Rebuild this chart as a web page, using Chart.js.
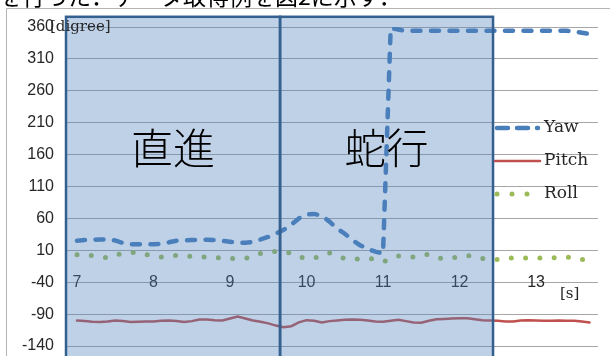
<!DOCTYPE html>
<html>
<head>
<meta charset="utf-8">
<script src="https://cdn.jsdelivr.net/npm/chart.js@4.4.1/dist/chart.umd.min.js"></script>
<style>
  html, body { margin: 0; padding: 0; background: #ffffff; }
  canvas { display: block; }
</style>
</head>
<body>
<canvas id="attitude" width="610" height="356"></canvas>
<script>
// Sample times [s]
const timeSec = [
  7.0, 7.1, 7.2, 7.3, 7.4, 7.5, 7.6, 7.7, 7.8, 7.9,
  8.0, 8.1, 8.2, 8.3, 8.4, 8.5, 8.6, 8.7, 8.8, 8.9,
  9.0, 9.1, 9.2, 9.3, 9.4, 9.5, 9.6, 9.7, 9.8, 9.9,
  10.0, 10.1, 10.2, 10.3, 10.4, 10.5, 10.6, 10.7, 10.8, 10.9,
  11.0, 11.1, 11.2, 11.3, 11.4, 11.5, 11.6, 11.7, 11.8, 11.9,
  12.0, 12.1, 12.2, 12.3, 12.4, 12.5, 12.6, 12.7, 12.8, 12.9,
  13.0, 13.1, 13.2, 13.3, 13.4, 13.5, 13.6, 13.7
];

// Yaw angle [degree]
const yawDeg = [
  25, 26, 26.5, 27, 27, 25.5, 21.5, 19.5, 19.5, 19.5,
  19.5, 20, 22.5, 25, 25.5, 26, 26.5, 26.5, 26, 25,
  23.5, 22, 22, 23, 27, 31, 36, 42, 50, 60,
  66, 67, 64, 55, 44, 36, 26, 18, 12, 8,
  5, 358, 356, 354, 354, 354, 354, 354, 354, 354,
  354, 354, 354, 354, 354, 354, 354, 354, 354, 354,
  354, 354, 354, 354, 354, 353, 351, 349
];

// Pitch angle [degree]
const pitchDeg = [
  -100, -101, -102, -102.5, -101.5, -100, -101, -102.5, -102, -101.5,
  -101.5, -100.5, -100, -101, -102.5, -101, -98.5, -98.5, -99.5, -100,
  -97, -94, -97, -100, -102, -104.5, -108, -110.5, -109, -103,
  -99.5, -100.5, -103, -101, -100, -99, -98.5, -99, -100, -101.5,
  -102, -100.5, -99, -101, -103, -103.5, -100.5, -98, -97.5, -97,
  -96.5, -96.5, -98, -99.5, -100, -100.5, -101.5, -101.5, -100, -99.5,
  -100, -100.5, -100.5, -100, -100.5, -100.5, -101.5, -103
];

// Roll angle [degree]
const rollDeg = [
  3, 2.5, 1.6, 0, -2, 2, 6, 6.5, 6.5, 3.5,
  1.5, -0.5, 0, 2, 1.5, 0.6, 0, -1, -1.5, -2,
  -2.5, -3, -2.5, 0, 5, 7, 8.4, 7.5, 5.8, 0,
  -3, -2.5, 1.5, 5.8, 1, -3, -4, -3.5, -2.5, -4,
  -8, -4, 1, 0.5, -0.5, 2.5, 3.5, -1.5, -3, -2,
  0, 2, 0, -3, -4, -4.6, -3, -2, -2, -2,
  -2, -2, -2, -1.5, -0.5, -2, -4.5, -4
];

// Axis tick labels
const xTickLabels = [7, 8, 9, 10, 11, 12, 13];
const yTickLabels = [-140, -90, -40, 10, 60, 110, 160, 210, 260, 310, 360];

// Driving phases [s]
const phaseNames = ['直進', '蛇行'];
const phaseStart = [6.856, 9.654];
const phaseEnd = [9.654, 12.438];

const SANS = "'Liberation Sans', Arial, sans-serif";
const SERIF = "'DejaVu Serif', 'Liberation Serif', serif";
const CJK = "'Noto Sans CJK JP', sans-serif";
const INK = '#262626';

const toPoints = vals => timeSec.map((t, i) => ({ x: t, y: vals[i] }));

// Page frame, caption line above the chart
const framePlugin = {
  id: 'frame',
  beforeDraw(chart) {
    const ctx = chart.ctx;
    ctx.save();
    ctx.strokeStyle = '#b4b4b4';
    ctx.lineWidth = 1;
    ctx.beginPath();
    ctx.moveTo(6.5, 356);
    ctx.lineTo(6.5, 8.5);
    ctx.lineTo(610, 8.5);
    ctx.stroke();
    ctx.fillStyle = '#000';
    ctx.font = '23px ' + CJK;
    ctx.textBaseline = 'alphabetic';
    ctx.textAlign = 'left';
    ctx.fillText('を行った．データ取得例を図2に示す．', -1, 5);
    ctx.restore();
  }
};

// Shaded phase boxes with their titles
const phasePlugin = {
  id: 'phases',
  afterDatasetsDraw(chart) {
    const { ctx, scales: { x, y } } = chart;
    const top = y.getPixelForValue(376);
    const bottom = y.getPixelForValue(-175);
    ctx.save();
    ctx.fillStyle = 'rgba(79,129,189,0.37)';
    phaseNames.forEach((_, i) => {
      const l = x.getPixelForValue(phaseStart[i]);
      const r = x.getPixelForValue(phaseEnd[i]);
      ctx.fillRect(l, top, r - l, bottom - top);
    });
    ctx.strokeStyle = '#33608f';
    ctx.lineWidth = 2.5;
    phaseNames.forEach((_, i) => {
      const l = x.getPixelForValue(phaseStart[i]);
      const r = x.getPixelForValue(phaseEnd[i]);
      ctx.strokeRect(l, top, r - l, bottom - top);
    });
    ctx.fillStyle = '#000';
    ctx.font = '300 42px ' + CJK;
    ctx.textAlign = 'center';
    ctx.textBaseline = 'middle';
    phaseNames.forEach((name, i) => {
      const cx = x.getPixelForValue((phaseStart[i] + phaseEnd[i]) / 2);
      ctx.fillText(name, cx, y.getPixelForValue(171));
    });
    ctx.restore();
  }
};

// Unit labels and the series key on the right
const keyPlugin = {
  id: 'key',
  afterDraw(chart) {
    const ctx = chart.ctx;
    ctx.save();
    ctx.fillStyle = INK;
    ctx.font = '15px ' + SERIF;
    ctx.textAlign = 'left';
    ctx.textBaseline = 'middle';
    ctx.fillText('[digree]', 50, 27);
    ctx.fillText('[s]', 560, 294);

    const rows = [
      { y: 128, x0: 497, x1: 538, dash: [11, 9] },
      { y: 161, x0: 495, x1: 540, dash: [] },
      { y: 194, x0: 497, x1: 530, dash: [0, 15] }
    ];
    chart.data.datasets.forEach((ds, i) => {
      const r = rows[i];
      ctx.strokeStyle = ds.borderColor;
      ctx.lineWidth = ds.borderWidth;
      ctx.lineCap = ds.borderCapStyle || 'butt';
      ctx.setLineDash(r.dash);
      ctx.beginPath();
      ctx.moveTo(r.x0, r.y);
      ctx.lineTo(r.x1, r.y);
      ctx.stroke();
      ctx.setLineDash([]);
      ctx.fillStyle = INK;
      ctx.font = '17px ' + SERIF;
      ctx.fillText(ds.label, 544, r.y);
    });
    ctx.restore();
  }
};

new Chart(document.getElementById('attitude'), {
  type: 'line',
  data: {
    datasets: [
      {
        label: 'Yaw',
        data: toPoints(yawDeg),
        borderColor: '#4a7ebb',
        borderWidth: 4.5,
        borderDash: [8, 10.5],
        borderCapStyle: 'round',
        pointRadius: 0,
        tension: 0
      },
      {
        label: 'Pitch',
        data: toPoints(pitchDeg),
        borderColor: '#c0504d',
        borderWidth: 2.5,
        borderCapStyle: 'round',
        pointRadius: 0,
        tension: 0
      },
      {
        label: 'Roll',
        data: toPoints(rollDeg),
        borderColor: '#9bbb59',
        borderWidth: 5,
        borderDash: [0, 14.3],
        borderCapStyle: 'round',
        pointRadius: 0,
        tension: 0
      }
    ]
  },
  options: {
    responsive: false,
    animation: false,
    events: [],
    layout: { padding: { left: 0, right: 12, top: 27, bottom: 10 } },
    plugins: {
      legend: { display: false },
      tooltip: { enabled: false }
    },
    scales: {
      x: {
        type: 'linear',
        min: 6.856,
        max: 13.81,
        position: { y: -40 },
        afterBuildTicks: s => { s.ticks = xTickLabels.map(v => ({ value: v })); },
        afterFit: s => { s.height = 0; },
        grid: { display: false, drawTicks: false },
        border: { display: false },
        ticks: {
          padding: -9,
          autoSkip: false,
          maxRotation: 0,
          color: INK,
          font: { family: SANS, size: 16 },
          callback: v => String(v)
        }
      },
      y: {
        type: 'linear',
        min: -140,
        max: 360,
        afterBuildTicks: s => { s.ticks = yTickLabels.map(v => ({ value: v })); },
        afterFit: s => { s.width = 66; s.paddingTop = 0; s.paddingBottom = 0; },
        grid: { color: '#a6a6a6', lineWidth: 1, drawTicks: false },
        border: { display: false },
        ticks: {
          padding: 12,
          color: INK,
          font: { family: SANS, size: 16 },
          callback: v => String(v)
        }
      }
    }
  },
  plugins: [framePlugin, phasePlugin, keyPlugin]
});
</script>
</body>
</html>
